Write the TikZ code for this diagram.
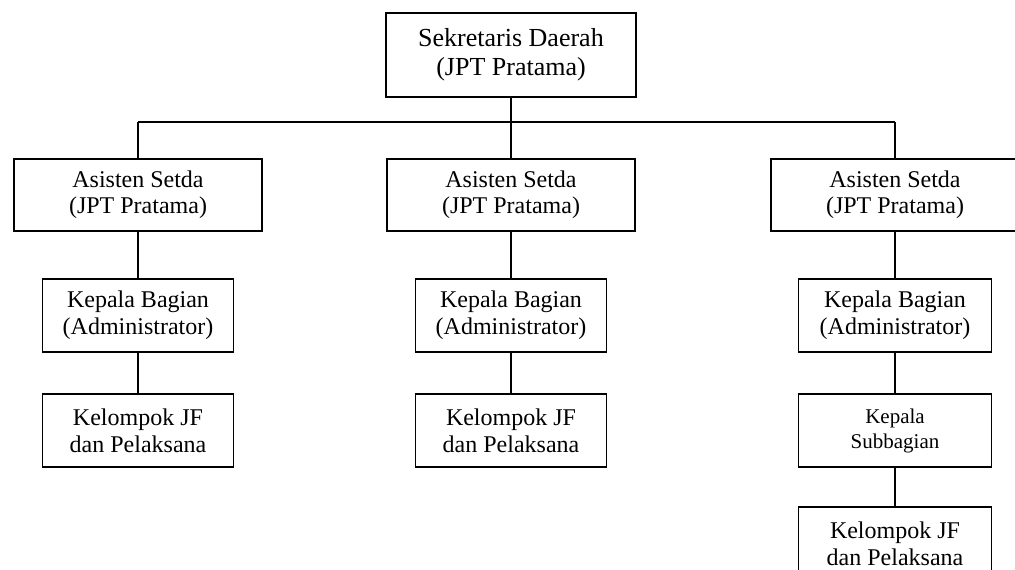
\documentclass[tikz,border=0pt]{standalone}
\usepackage{fontspec}
\setmainfont{Liberation Serif}
\begin{document}
\begin{tikzpicture}[x=1pt,y=-1pt,
  box/.style={draw,line width=1.6pt,align=center,inner sep=0pt,fill=white},
  bigbox/.style={box,minimum width=250pt,minimum height=84pt,font=\fontsize{26}{29}\selectfont},
  asbox/.style={box,minimum width=248pt,minimum height=72pt,font=\fontsize{24}{26}\selectfont},
  kbox/.style={box,minimum width=191pt,minimum height=73pt,font=\fontsize{24}{27}\selectfont},
  sbox/.style={box,minimum width=193pt,minimum height=73pt,font=\fontsize{21}{25}\selectfont},
  conn/.style={line width=1.6pt}]
\useasboundingbox (0,0) rectangle (1015,570);
\clip (0,0) rectangle (1015,570);
\fill[white] (0,0) rectangle (1015,570);
% nodes
\node[bigbox] (top) at (511,55) {Sekretaris Daerah\\(JPT Pratama)};
\node[asbox] (a1) at (138,195) {Asisten Setda\\(JPT Pratama)};
\node[asbox] (a2) at (511,195) {Asisten Setda\\(JPT Pratama)};
\node[asbox] (a3) at (895,195) {Asisten Setda\\(JPT Pratama)};
\node[kbox] (k1) at (138,315.5) {Kepala Bagian\\(Administrator)};
\node[kbox] (k2) at (511,315.5) {Kepala Bagian\\(Administrator)};
\node[kbox,minimum width=193pt] (k3) at (895,315.5) {Kepala Bagian\\(Administrator)};
\node[kbox] (j1) at (138,430.5) {Kelompok JF\\dan Pelaksana};
\node[kbox] (j2) at (511,430.5) {Kelompok JF\\dan Pelaksana};
\node[sbox] (s3) at (895,430.5) {Kepala\\Subbagian};
\node[kbox,minimum width=193pt] (j3) at (895,543.5) {Kelompok JF\\dan Pelaksana};
% bus
\coordinate (bus) at (511,122);
\coordinate (busL) at (138,122);
\coordinate (busR) at (895,122);
% connectors
\draw[conn] (top.south) -- (bus);
\draw[conn] (busL) -- (busR);
\draw[conn] (busL) -- (a1.north);
\draw[conn] (bus) -- (a2.north);
\draw[conn] (busR) -- (a3.north);
\draw[conn] (a1.south) -- (k1.north);
\draw[conn] (a2.south) -- (k2.north);
\draw[conn] (a3.south) -- (k3.north);
\draw[conn] (k1.south) -- (j1.north);
\draw[conn] (k2.south) -- (j2.north);
\draw[conn] (k3.south) -- (s3.north);
\draw[conn] (s3.south) -- (j3.north);
\end{tikzpicture}
\end{document}
